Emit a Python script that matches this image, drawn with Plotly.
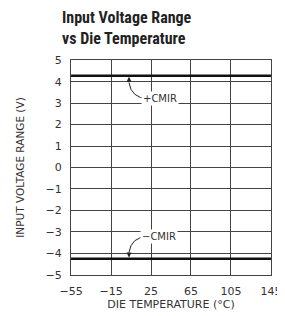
import plotly.graph_objects as go

temps = [-55, 145]
cmir_pos = [4.28, 4.28]
cmir_neg = [-4.25, -4.25]
x_ticks = [-55, -15, 25, 65, 105, 145]
y_ticks = [-5, -4, -3, -2, -1, 0, 1, 2, 3, 4, 5]

tick_font = dict(family="DejaVu Sans", size=11, color="#333")

fig = go.Figure()
fig.add_trace(go.Scatter(x=temps, y=cmir_pos, mode="lines",
                         line=dict(color="#111", width=2.5), showlegend=False))
fig.add_trace(go.Scatter(x=temps, y=cmir_neg, mode="lines",
                         line=dict(color="#111", width=2.5), showlegend=False))

# curved leader lines
fig.add_shape(type="path", path="M 22,3.2 Q 5,3.25 3,3.95", line=dict(color="#222", width=1))
fig.add_shape(type="path", path="M 22,-3.2 Q 5,-3.25 3,-3.95", line=dict(color="#222", width=1))
fig.add_annotation(x=3, y=cmir_pos[0] - 0.05, ax=3, ay=3.9, axref="x", ayref="y",
                   text="", showarrow=True, arrowhead=2, arrowsize=1, arrowwidth=1, arrowcolor="#222")
fig.add_annotation(x=3, y=cmir_neg[0] + 0.05, ax=3, ay=-3.9, axref="x", ayref="y",
                   text="", showarrow=True, arrowhead=2, arrowsize=1, arrowwidth=1, arrowcolor="#222")
fig.add_annotation(x=34, y=3.2, text="+CMIR", showarrow=False, bgcolor="white",
                   font=dict(family="DejaVu Sans", size=10, color="#333"))
fig.add_annotation(x=33, y=-3.2, text="−CMIR", showarrow=False, bgcolor="white",
                   font=dict(family="DejaVu Sans", size=10, color="#333"))

fig.add_annotation(xref="paper", yref="paper", x=-0.055, y=1.045, xanchor="left", yanchor="bottom",
                   text="<b>Input Voltage Range<br>vs Die Temperature</b>", showarrow=False, align="left",
                   font=dict(family="Liberation Sans Narrow, Roboto Condensed, Liberation Sans", size=16, color="#222"))

axis_common = dict(showgrid=True, gridcolor="#444", gridwidth=1, zeroline=False,
                   showline=True, linecolor="#444", linewidth=1, mirror=True,
                   ticks="", tickfont=tick_font, ticklabelstandoff=6)
fig.update_xaxes(range=[-55.05, 145.05], tickvals=x_ticks,
                 title=dict(text="DIE TEMPERATURE (°C)", standoff=3,
                            font=dict(family="DejaVu Sans", size=11, color="#333")),
                 **axis_common)
fig.update_yaxes(range=[-5.01, 5.01], tickvals=y_ticks,
                 title=dict(text="INPUT VOLTAGE RANGE (V)", standoff=18,
                            font=dict(family="DejaVu Sans", size=10.5, color="#333")),
                 **axis_common)
fig.update_layout(width=285, height=316, margin=dict(l=62, r=12, t=52, b=49),
                  plot_bgcolor="white", paper_bgcolor="white")
fig.write_html("out.html")
